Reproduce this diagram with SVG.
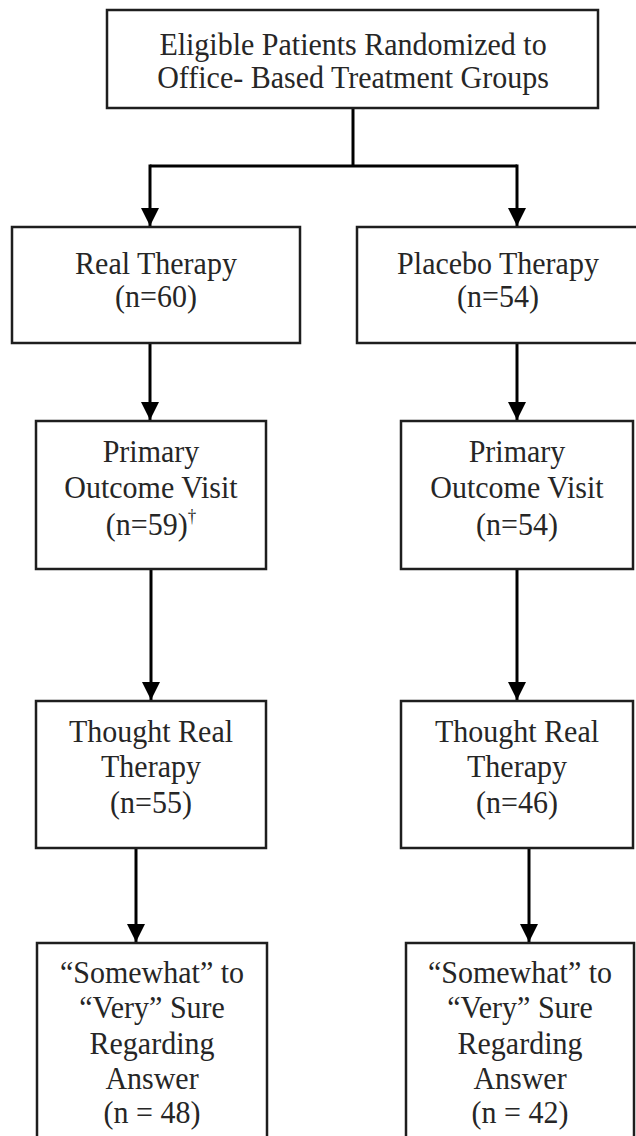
<svg xmlns="http://www.w3.org/2000/svg" width="636" height="1136" viewBox="0 0 636 1136">
<style>
.box{fill:#fff;stroke:#1e1e1e;stroke-width:2.5}
.t{font-family:"Liberation Serif","Times New Roman",serif;font-size:32px;fill:#262626;text-anchor:middle}
.c{stroke:#000;stroke-width:3;fill:none}
</style>
<defs>
<marker id="ah" viewBox="0 0 18 18" refX="18" refY="9" markerWidth="18" markerHeight="18" markerUnits="userSpaceOnUse" orient="auto">
<path d="M0,0 L18,9 L0,18 Z" fill="#000"/>
</marker>
</defs>
<rect width="636" height="1136" fill="#fff"/>
<g id="connectors">
<path class="c" d="M353,108 V166"/>
<path class="c" d="M150,166 H517"/>
<path class="c" d="M150,164.5 V226" marker-end="url(#ah)"/>
<path class="c" d="M517,164.5 V226" marker-end="url(#ah)"/>
<path class="c" d="M150,343 V420" marker-end="url(#ah)"/>
<path class="c" d="M517,343 V420" marker-end="url(#ah)"/>
<path class="c" d="M151,569 V700" marker-end="url(#ah)"/>
<path class="c" d="M517,569 V700" marker-end="url(#ah)"/>
<path class="c" d="M136,848 V942" marker-end="url(#ah)"/>
<path class="c" d="M529,848 V942" marker-end="url(#ah)"/>
</g>
<g id="randomized">
<rect class="box" x="107" y="10" width="491" height="98"/>
<g transform="matrix(0.9375,0,0,1,353,0)">
<text class="t" x="0" y="55">Eligible Patients Randomized to</text>
<text class="t" x="0" y="88.5">Office- Based Treatment Groups</text>
</g>
</g>
<g id="real-therapy">
<rect class="box" x="12" y="227" width="288" height="116"/>
<g transform="matrix(0.9375,0,0,1,156,0)">
<text class="t" x="0" y="274">Real Therapy</text>
<text class="t" x="0" y="307.5">(n=60)</text>
</g>
</g>
<g id="placebo-therapy">
<rect class="box" x="357" y="227" width="290" height="116"/>
<g transform="matrix(0.9375,0,0,1,498,0)">
<text class="t" x="0" y="274">Placebo Therapy</text>
<text class="t" x="0" y="307.5">(n=54)</text>
</g>
</g>
<g id="primary-real">
<rect class="box" x="36" y="421" width="230" height="148"/>
<g transform="matrix(0.9375,0,0,1,151,0)">
<text class="t" x="0" y="462">Primary</text>
<text class="t" x="0" y="498">Outcome Visit</text>
<text class="t" x="0" y="535">(n=59)<tspan font-size="18" dy="-13">†</tspan></text>
</g>
</g>
<g id="primary-placebo">
<rect class="box" x="401" y="421" width="232" height="148"/>
<g transform="matrix(0.9375,0,0,1,517,0)">
<text class="t" x="0" y="462">Primary</text>
<text class="t" x="0" y="498">Outcome Visit</text>
<text class="t" x="0" y="535">(n=54)</text>
</g>
</g>
<g id="thought-real">
<rect class="box" x="36" y="701" width="230" height="147"/>
<g transform="matrix(0.9375,0,0,1,151,0)">
<text class="t" x="0" y="742">Thought Real</text>
<text class="t" x="0" y="777">Therapy</text>
<text class="t" x="0" y="813">(n=55)</text>
</g>
</g>
<g id="thought-placebo">
<rect class="box" x="401" y="701" width="232" height="147"/>
<g transform="matrix(0.9375,0,0,1,517,0)">
<text class="t" x="0" y="742">Thought Real</text>
<text class="t" x="0" y="777">Therapy</text>
<text class="t" x="0" y="813">(n=46)</text>
</g>
</g>
<g id="sure-real">
<rect class="box" x="37" y="943" width="230" height="210"/>
<g transform="matrix(0.9375,0,0,1,152,0)">
<text class="t" x="0" y="983">“Somewhat” to</text>
<text class="t" x="0" y="1018">“Very” Sure</text>
<text class="t" x="0" y="1054">Regarding</text>
<text class="t" x="0" y="1089.5">Answer</text>
<text class="t" x="0" y="1123">(n = 48)</text>
</g>
</g>
<g id="sure-placebo">
<rect class="box" x="406" y="943" width="228" height="210"/>
<g transform="matrix(0.9375,0,0,1,520,0)">
<text class="t" x="0" y="983">“Somewhat” to</text>
<text class="t" x="0" y="1018">“Very” Sure</text>
<text class="t" x="0" y="1054">Regarding</text>
<text class="t" x="0" y="1089.5">Answer</text>
<text class="t" x="0" y="1123">(n = 42)</text>
</g>
</g>
</svg>
